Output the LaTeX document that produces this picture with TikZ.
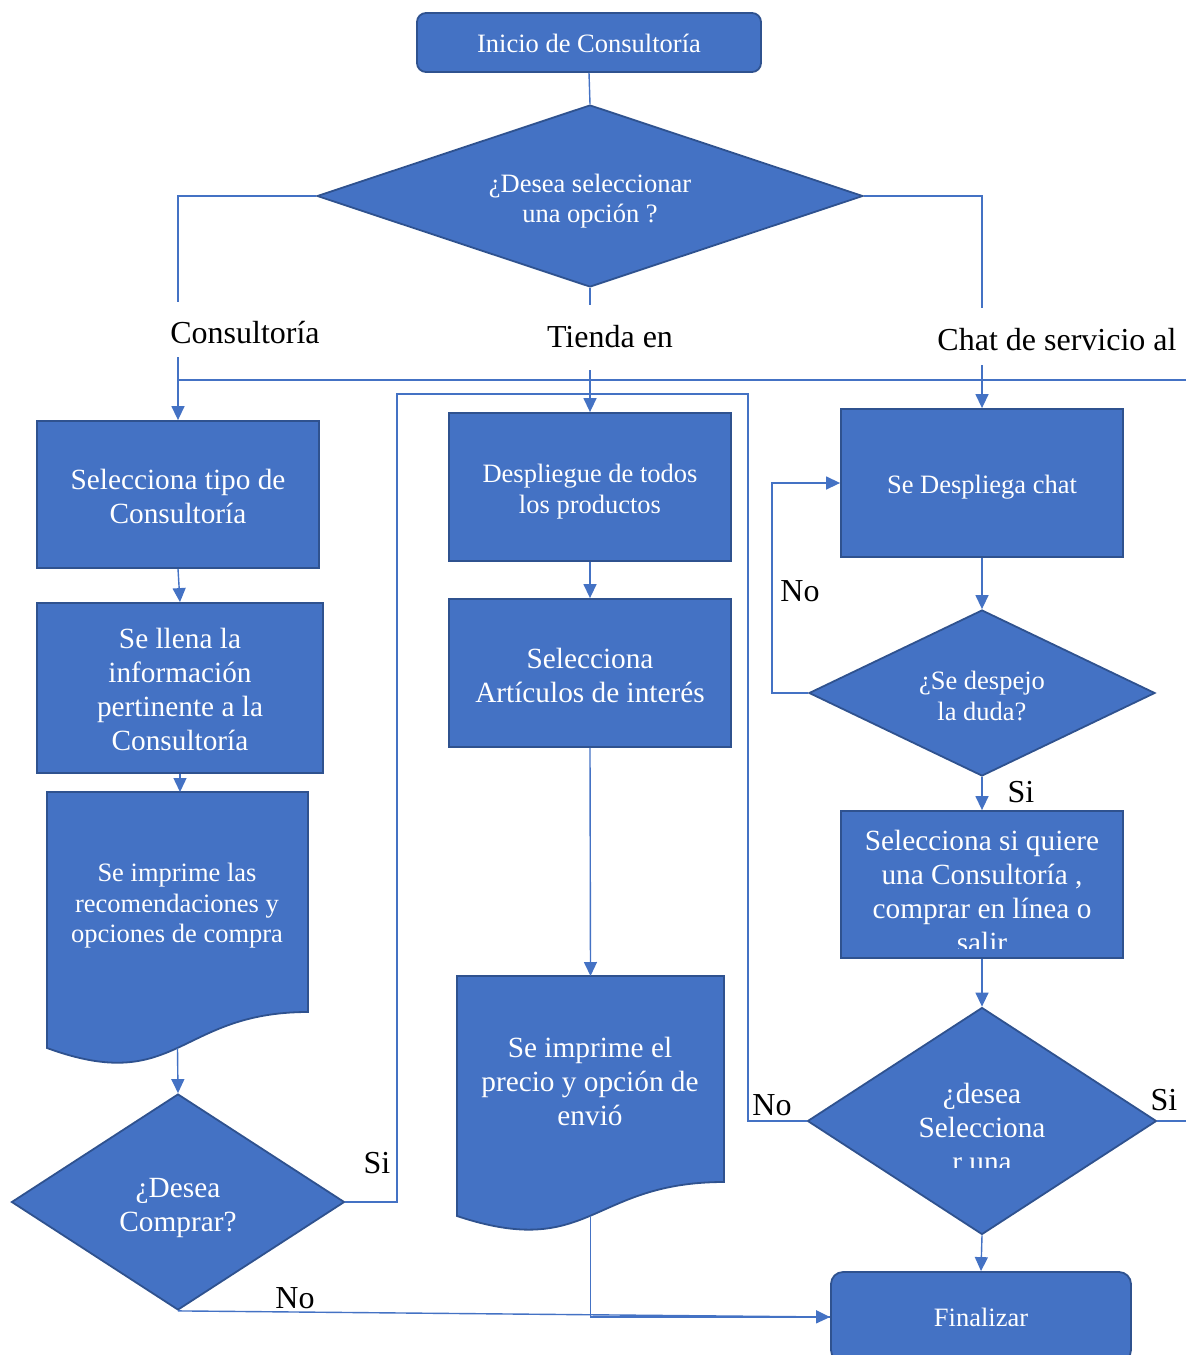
\documentclass[tikz,border=0pt]{standalone}
\usepackage{fontspec}
\setmainfont{Liberation Serif}
\usetikzlibrary{shapes.geometric,arrows.meta}
\definecolor{fillb}{HTML}{4472C4}
\definecolor{bord}{HTML}{2F528F}
\definecolor{lnc}{HTML}{4472C4}
\tikzset{
 proc/.style={rectangle, draw=bord, line width=1.8pt, fill=fillb, inner sep=0pt},
 term/.style={proc, rounded corners=9pt},
 dec/.style={diamond, draw=bord, line width=1.8pt, fill=fillb, inner sep=0pt},
 docshape/.style={draw=bord, line width=1.8pt, fill=fillb},
 conn/.style={draw=lnc, line width=1.4pt},
 arr/.style={conn, -{Triangle[length=14pt,width=13pt]}},
 lbl/.style={text=black, font=\fontsize{32}{36}\selectfont, inner sep=0pt},
 fa/.style={font=\fontsize{26.5}{30.5}\selectfont},
 fb/.style={font=\fontsize{29.3}{34}\selectfont},
 wtext/.style={text=white, align=center, inner sep=0pt},
}
\begin{document}
\begin{tikzpicture}[x=1pt,y=-1pt]
\useasboundingbox (0,0) rectangle (1186,1355);
\clip (0,0) rectangle (1186,1355);
% coordinates
\coordinate (c1a) at (178,302);
\coordinate (c1b) at (178,357);
\coordinate (c2a) at (590,305);
\coordinate (c2b) at (590,370);
\coordinate (c3a) at (982,308);
\coordinate (c3b) at (982,365);
\coordinate (h1) at (178,380);
\coordinate (h2) at (1186,380);
\coordinate (ctop) at (180,792);
\coordinate (cbot) at (177.5,1048);
\coordinate (gtop) at (590.5,976);
\coordinate (gbot) at (590.5,1215.7);
\coordinate (lp1) at (397,394);
\coordinate (lp2) at (748,1121);
\coordinate (lp3) at (772,483);
\coordinate (ke) at (1186,1121);
% shapes
\node[term, minimum width=344pt, minimum height=59pt] (start) at (589,42.5) {};
\node[wtext, fa] (starttext) at (589,43.5) {Inicio de Consultoría};
\node[dec, minimum width=546pt, minimum height=182pt] (q1) at (590,196) {};
\node[wtext, fa] (q1text) at (590,201) {¿Desea seleccionar\\una opción ?};
\node[proc, minimum width=282pt, minimum height=147pt] (a) at (178,494.5) {};
\node[wtext, fb] (atext) at (178,496.5) {Selecciona tipo de\\Consultoría};
\node[proc, minimum width=286pt, minimum height=170pt] (b) at (180,688) {};
\node[wtext, fb] (btext) at (180,689) {Se llena la\\información\\pertinente a la\\Consultoría};
\path[docshape] (47,792) -- (308,792) -- (308,1012) .. controls (177.5,1012) and (177.5,1095.8) .. (47,1048) -- cycle;
\node[wtext, fa] (ctext) at (177,906) {Se imprime las\\recomendaciones y\\opciones de compra};
\node[dec, minimum width=333pt, minimum height=216pt] (d) at (178,1202) {};
\node[wtext, fb] (dtext) at (178,1208) {¿Desea\\Comprar?};
\node[proc, minimum width=282pt, minimum height=148pt] (e) at (590,487) {};
\node[wtext, fa] (etext) at (590,491.5) {Despliegue de todos\\los productos};
\node[proc, minimum width=282pt, minimum height=148pt] (f) at (590,673) {};
\node[wtext, fb] (ftext) at (590,675) {Selecciona\\Artículos de interés};
\path[docshape] (457,976) -- (724,976) -- (724,1182) .. controls (590.5,1182) and (590.5,1260.5) .. (457,1216) -- cycle;
\node[wtext, fb] (gtext) at (590,1081) {Se imprime el\\precio y opción de\\envió};
\node[proc, minimum width=282pt, minimum height=148pt] (h) at (982,483) {};
\node[wtext, fa] (htext) at (982,487) {Se Despliega chat};
\node[dec, minimum width=346pt, minimum height=166pt] (i) at (982,693) {};
\node[wtext, fa] (itext) at (982,696) {¿Se despejo\\la duda?};
\node[proc, minimum width=282pt, minimum height=147pt] (j) at (982,884.5) {};
\begin{scope}
\clip (843,812) rectangle (1121,948);
\node[wtext, fb] (jtext) at (982,891) {Selecciona si quiere\\una Consultoría ,\\comprar en línea o\\salir};
\end{scope}
\node[dec, minimum width=349pt, minimum height=227pt] (k) at (982,1121) {};
\begin{scope}
\clip (850,1050) rectangle (1110,1167);
\node[wtext, fb] (ktext) at (982,1127) {¿desea\\Selecciona\\r una};
\end{scope}
\node[term, rounded corners=12pt, minimum width=300pt, minimum height=90pt] (fin) at (981,1317) {};
\node[wtext, fa] (fintext) at (981,1317) {Finalizar};
% connectors
\draw[conn] (start.south) -- (q1.north);
\draw[conn] (q1.west) -| (c1a);
\draw[arr] (c1b) -- (a.north);
\draw[conn] (q1.south) -- (c2a);
\draw[arr] (c2b) -- (e.north);
\draw[conn] (q1.east) -| (c3a);
\draw[arr] (c3b) -- (h.north);
\draw[conn] (h1) -- (h2);
\draw[arr] (a.south) -- (b.north);
\draw[arr] (b.south) -- (ctop);
\draw[arr] (cbot) -- (d.north);
\draw[conn] (d.east) -| (lp1) -| (lp2) -- (k.west);
\draw[conn] (gbot) |- (fin.west);
\draw[arr] (d.south) -- (fin.west);
\draw[arr] (e.south) -- (f.north);
\draw[arr] (f.south) -- (gtop);
\draw[arr] (h.south) -- (i.north);
\draw[arr] (i.west) -| (lp3) -- (h.west);
\draw[arr] (i.south) -- (j.north);
\draw[arr] (j.south) -- (k.north);
\draw[conn] (k.east) -- (ke);
\draw[arr] (k.south) -- (fin.north);
% labels
\node[lbl] (l1) at (245,333) {Consultoría};
\node[lbl] (l2) at (610,337) {Tienda en};
\node[lbl] (l3) at (1057,340) {Chat de servicio al};
\node[lbl] (l4) at (800,591) {No};
\node[lbl] (l5) at (1021,792) {Si};
\node[lbl] (l6) at (772,1105) {No};
\node[lbl] (l7) at (1164,1100) {Si};
\node[lbl] (l8) at (377,1163) {Si};
\node[lbl] (l9) at (295,1298) {No};
\end{tikzpicture}
\end{document}
